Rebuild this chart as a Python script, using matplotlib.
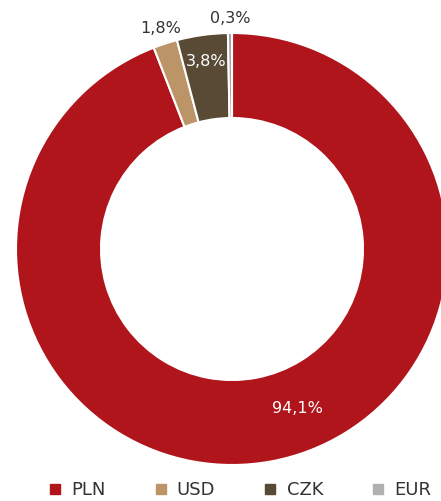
import numpy as np
import matplotlib
matplotlib.use("Agg")
import matplotlib.pyplot as plt
from matplotlib.lines import Line2D

categories = ["PLN", "USD", "CZK", "EUR"]
values = [94.1, 1.8, 3.8, 0.3]
labels = ["94,1%", "1,8%", "3,8%", "0,3%"]
colors = ["#B0151C", "#BB9467", "#594A35", "#A0A0A0"]
legend_colors = ["#B0151C", "#BB9467", "#594A35", "#B0B0B0"]

plt.rcParams['font.family'] = ['DejaVu Sans']

W, H = 441, 501
fig = plt.figure(figsize=(W / 100, H / 100), dpi=100)
ax = fig.add_axes([0, 0, 1, 1])
cx, cy = 232, 249

R, r_in = 216, 131
wedges, _ = ax.pie(values, radius=R, startangle=90, counterclock=False,
                   colors=colors, wedgeprops=dict(width=R - r_in, edgecolor='white', linewidth=1.5))
ax.set_xlim(-cx, W - cx)
ax.set_ylim(-(H - cy), cy)
ax.set_aspect('equal')
ax.axis('off')

# label placement: (radius, angle override or None, color)
label_cfg = [
    (173, -67.6, 'white'),
    (232, None, '#333333'),
    (189, None, 'white'),
    (231, None, '#333333'),
]
for w, lab, (rad, ang, col) in zip(wedges, labels, label_cfg):
    a = ang if ang is not None else (w.theta1 + w.theta2) / 2
    x = rad * np.cos(np.deg2rad(a))
    y = rad * np.sin(np.deg2rad(a))
    ax.text(x, y, lab, ha='center', va='center', color=col, fontsize=11.5)

handles = [Line2D([0], [0], marker='s', color='none', markerfacecolor=c,
                  markeredgecolor=c, markersize=7) for c in legend_colors]
fig.legend(handles, categories, loc='center left', bbox_to_anchor=(0.112, 0.022),
           ncol=4, frameon=False, fontsize=13, handlelength=0.6, handletextpad=0.6,
           columnspacing=2.75, borderaxespad=0, borderpad=0, labelcolor='#333333')

fig.savefig("out.png", dpi=100)
